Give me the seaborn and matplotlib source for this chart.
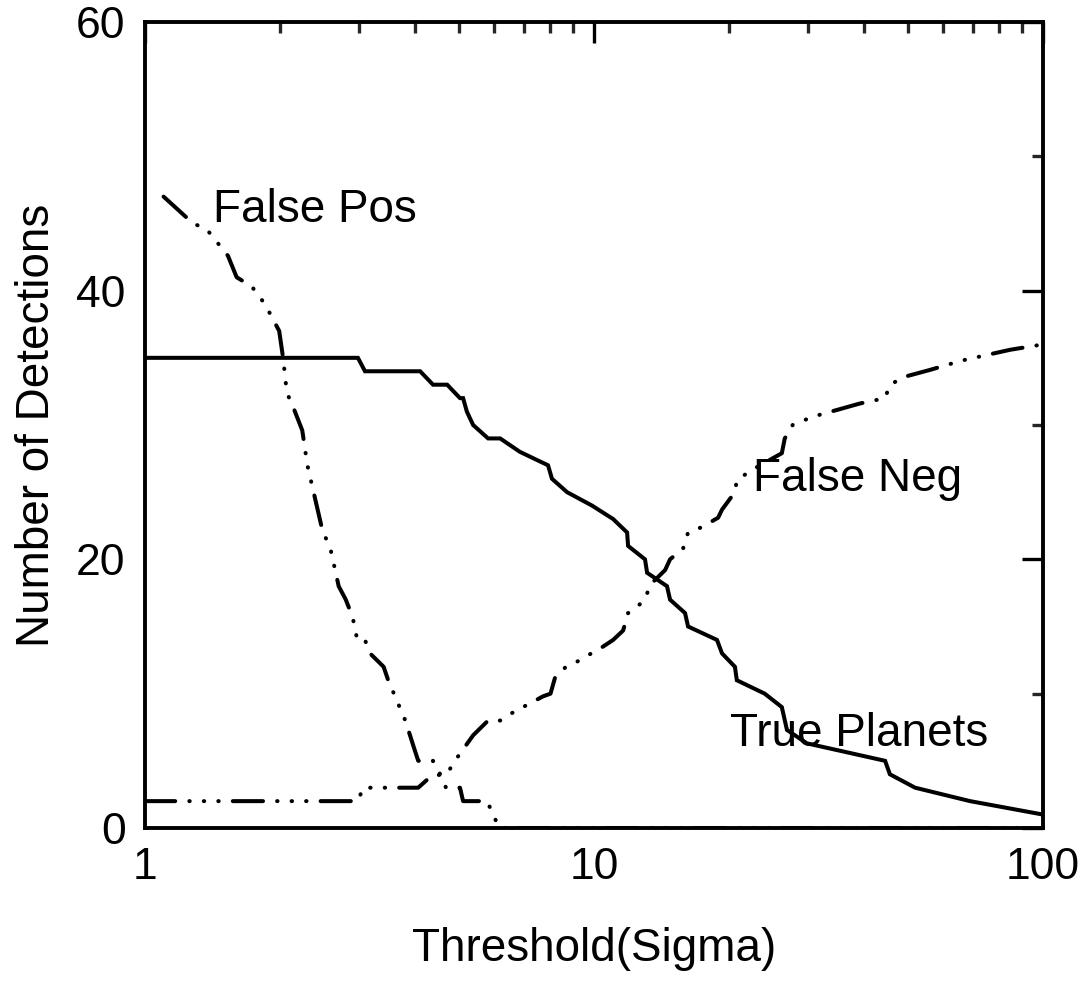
import numpy as np
import pandas as pd
import matplotlib
matplotlib.use("Agg")
import matplotlib.pyplot as plt
import matplotlib.ticker as mticker
import seaborn as sns

# ---- data ----
tp_x = [1, 2.98, 3.09, 4.10, 4.38, 4.71, 5.03, 5.11, 5.21, 5.38, 5.81, 6.18, 6.84, 7.90, 8.06,
        8.71, 9.90, 11.03, 11.85, 11.91, 12.99, 13.13, 14.54, 14.77, 15.95, 16.20, 18.79, 19.28,
        20.6, 20.8, 24.0, 26.2, 26.9, 29.8, 44.5, 45.6, 51.9, 68.8, 100]
tp_y = [35, 35, 34, 34, 33, 33, 32, 32, 31, 30, 29, 29, 28, 27, 26,
        25, 24, 23, 22, 21, 20, 19, 18, 17, 16, 15, 14, 13,
        12, 11, 10, 9, 7.3, 6.3, 5, 4, 3, 2, 1]

fp_x = [1.10, 1.28, 1.37, 1.53, 1.60, 1.73, 1.85, 1.99, 2.03, 2.07, 2.14, 2.24, 2.30, 2.49,
        2.58, 2.70, 2.80, 2.90, 2.97, 3.09, 3.17, 3.40, 3.48, 3.80, 3.97, 4.06, 4.38, 4.61,
        4.68, 5.03, 5.11, 5.78, 6.15, 100]
fp_y = [47, 45, 44.6, 42.6, 41, 40.3, 39, 37, 35, 32.4, 31.3, 29.6, 27, 22,
        21, 18, 17, 15.7, 14, 14, 13, 12, 11, 8, 6, 5, 5, 3.6,
        3, 3, 2, 2, 0, 0]

fn_x = [1, 2.98, 3.06, 4.06, 4.35, 4.70, 4.90, 5.38, 5.81, 6.18, 6.60, 7.70, 8.0, 8.19, 8.66,
        9.08, 10.47, 11.03, 11.61, 11.91, 12.21, 12.99, 13.33, 14.4, 14.77, 15.79, 16.2, 17.4,
        18.9, 19.28, 20.6, 20.8, 22.6, 26.2, 26.6, 27.7, 30.6, 39.1, 44.5, 45.6, 49.3, 56.0,
        66.0, 84.5, 100]
fn_y = [2, 2, 3, 3, 3.9, 4, 5, 6.9, 8, 8, 8.6, 9.8, 10, 11.2, 12,
        12.3, 13.5, 14, 14.7, 16, 16.2, 17, 18.1, 19.2, 20, 20.8, 22, 22.4,
        23.1, 23.7, 25, 25.9, 26.7, 27.9, 29, 30, 30.6, 31.6, 32, 33, 33.6, 34.1,
        34.8, 35.6, 36]

labels = ["False Pos", "False Neg", "True Planets"]
label_x = [1.42, 22.6, 20.1]
label_y = [46.0, 26.0, 7.0]

x_ticks = [1, 10, 100]
x_ticklabels = ["1", "10", "100"]
y_ticks = [0, 20, 40, 60]

sns.set_style("white")
plt.rcParams['font.family'] = ['Liberation Sans', 'DejaVu Sans']

fig = plt.figure(figsize=(10.89, 9.89), dpi=100)
ax = fig.add_axes([145/1089, 1-828/989, (1043-145)/1089, (828-22)/989])

lw = 2.9
dd = [7.5, 3.5, 0.1, 3.5, 0.1, 3.5, 0.1, 3.5]

df_tp = pd.DataFrame({"x": tp_x, "y": tp_y})
df_fp = pd.DataFrame({"x": fp_x, "y": fp_y})
df_fn = pd.DataFrame({"x": fn_x, "y": fn_y})

sns.lineplot(data=df_tp, x="x", y="y", ax=ax, color="black", sort=False, estimator=None)
sns.lineplot(data=df_fp, x="x", y="y", ax=ax, color="black", sort=False, estimator=None)
sns.lineplot(data=df_fn, x="x", y="y", ax=ax, color="black", sort=False, estimator=None)
lines = ax.get_lines()
for ln in lines:
    ln.set_linewidth(lw)
lines[0].set_solid_joinstyle("miter")
for ln in lines[1:3]:
    ln.set_dashes(dd)
    ln.set_dash_capstyle("round")

ax.set_xscale("log")
ax.set_xlim(1, 100)
ax.set_ylim(0, 60)
ax.set_xticks(x_ticks)
ax.set_xticklabels(x_ticklabels)
ax.xaxis.set_minor_locator(mticker.LogLocator(base=10, subs=np.arange(2, 10)))
ax.xaxis.set_minor_formatter(mticker.NullFormatter())
ax.set_yticks(y_ticks)
ax.yaxis.set_minor_locator(mticker.MultipleLocator(10))

for s in ax.spines.values():
    s.set_linewidth(2.8)
    s.set_color("black")
    s.set_visible(True)

ax.tick_params(which="major", direction="in", length=15, width=2.4, top=True, right=True,
               labelsize=32, pad=14, colors="black")
ax.tick_params(which="minor", direction="in", length=8, width=2.4, top=True, right=True)

ax.set_xlabel("Threshold(Sigma)", fontsize=33, labelpad=28, color="black")
ax.set_ylabel("Number of Detections", fontsize=33, labelpad=12, color="black")

for t, lx, ly in zip(labels, label_x, label_y):
    ax.text(lx, ly, t, fontsize=33, va="center", ha="left", color="black")

fig.savefig("out.png", dpi=100)
